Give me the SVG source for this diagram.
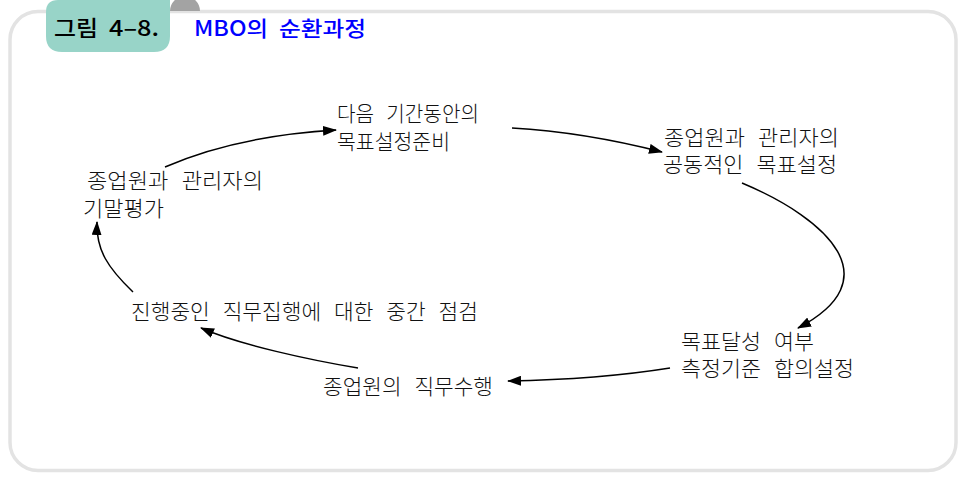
<svg xmlns="http://www.w3.org/2000/svg" width="962" height="478" viewBox="0 0 962 478">
<defs>
<style>
.node text{font-family:"Noto Sans CJK KR","Noto Sans",sans-serif;font-size:21px;font-weight:300;fill:#111;word-spacing:8px}
.conn path{fill:none;stroke:#000;stroke-width:1.5}
.ttl{font-family:"Noto Sans CJK KR","Noto Sans",sans-serif;font-weight:500}
</style>
<marker id="ah" markerWidth="14" markerHeight="10" refX="13" refY="5" orient="auto" markerUnits="userSpaceOnUse"><path d="M0,0 L14,5 L0,10 Z" fill="#000"/></marker>
</defs>
<rect x="0" y="0" width="962" height="478" fill="#fff"/>
<rect x="10" y="11.5" width="946" height="459" rx="28" ry="28" fill="none" stroke="#e3e3e3" stroke-width="3.5"/>
<path d="M170,11 A15,15 0 0 1 200,11 Z" fill="#a3a3a3"/>
<path d="M46,12 Q46,0 58,0 L170,0 L170,36 Q170,52 154,52 L62,52 Q46,52 46,36 Z" fill="#98d4c8"/>
<g id="title">
<text class="ttl" x="54" y="36" font-size="22" fill="#000" textLength="44" lengthAdjust="spacingAndGlyphs">그림</text>
<text class="ttl" x="109" y="36" font-size="22" fill="#000" textLength="50" lengthAdjust="spacingAndGlyphs">4–8.</text>
<text class="ttl" x="194" y="36" font-size="21" fill="#0000ff" textLength="74" lengthAdjust="spacingAndGlyphs">MBO의</text>
<text class="ttl" x="279" y="36" font-size="21" fill="#0000ff" textLength="87" lengthAdjust="spacingAndGlyphs">순환과정</text>
</g>
<g class="conn" id="connectors">
<path d="M165,167 C215,145 270,134 336,130" marker-end="url(#ah)"/>
<path d="M512,128 C565,131 615,140 662,152" marker-end="url(#ah)"/>
<path d="M742,183 C830,220 890,280 798,328" marker-end="url(#ah)"/>
<path d="M670,368 C620,376 565,380 508,381" marker-end="url(#ah)"/>
<path d="M358,368 C310,360 240,345 201,328" marker-end="url(#ah)"/>
<path d="M133,292 C108,268 96,250 97,222" marker-end="url(#ah)"/>
</g>
<g class="node" id="n-prepare">
<text x="337" y="121" textLength="142" lengthAdjust="spacingAndGlyphs">다음 기간동안의</text>
<text x="337" y="149" textLength="113" lengthAdjust="spacingAndGlyphs">목표설정준비</text>
</g>
<g class="node" id="n-joint">
<text x="664" y="145" textLength="175" lengthAdjust="spacingAndGlyphs">종업원과 관리자의</text>
<text x="663" y="172" textLength="174" lengthAdjust="spacingAndGlyphs">공동적인 목표설정</text>
</g>
<g class="node" id="n-criteria">
<text x="681" y="349" textLength="133" lengthAdjust="spacingAndGlyphs">목표달성 여부</text>
<text x="681" y="376" textLength="173" lengthAdjust="spacingAndGlyphs">측정기준 합의설정</text>
</g>
<g class="node" id="n-perform">
<text x="323" y="394" textLength="170" lengthAdjust="spacingAndGlyphs">종업원의 직무수행</text>
</g>
<g class="node" id="n-midcheck">
<text x="131" y="319" textLength="347" lengthAdjust="spacingAndGlyphs">진행중인 직무집행에 대한 중간 점검</text>
</g>
<g class="node" id="n-eval">
<text x="87" y="188" textLength="176" lengthAdjust="spacingAndGlyphs">종업원과 관리자의</text>
<text x="83" y="216" textLength="81" lengthAdjust="spacingAndGlyphs">기말평가</text>
</g>
</svg>
